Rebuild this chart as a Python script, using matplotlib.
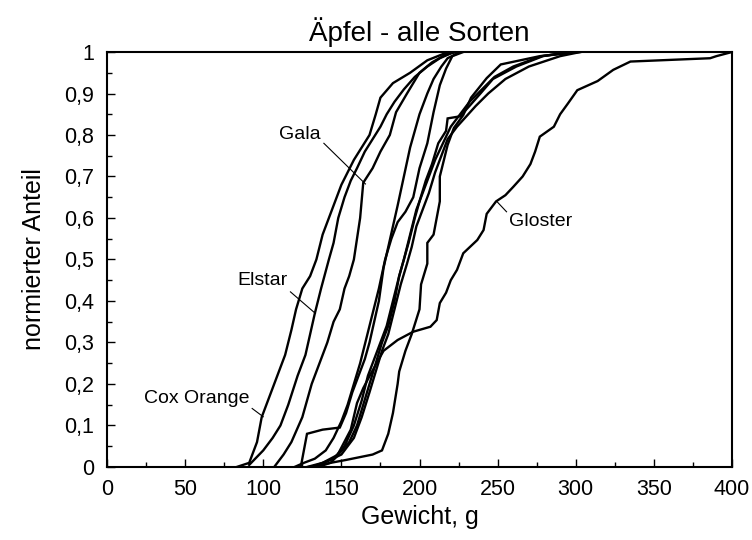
import matplotlib
matplotlib.use('Agg')
import matplotlib.pyplot as plt
from matplotlib.ticker import MultipleLocator, FuncFormatter

plt.rcParams['font.family'] = ['Liberation Sans', 'DejaVu Sans']

# cumulative weight distributions (weight in g, normalized share)
cox_x = [83, 91, 96, 99, 103, 109, 114, 118, 121, 125, 130, 134, 138, 141, 146, 150, 154, 158, 163, 168, 172, 175, 183, 194, 205, 215, 225]
cox_y = [0, .01, .06, .12, .16, .22, .27, .33, .38, .43, .46, .50, .56, .59, .64, .68, .71, .74, .77, .80, .85, .89, .925, .95, .98, .995, 1]

elstar_x = [91, 100, 106, 111, 116, 122, 127, 130, 133, 137, 142, 145, 148, 152, 156, 160, 165, 170, 175, 179, 184, 190, 197, 205, 213, 222]
elstar_y = [0.005, .04, .07, .10, .15, .22, .27, .32, .37, .43, .50, .54, .60, .65, .69, .72, .76, .79, .82, .85, .88, .91, .94, .965, .985, 1]

gala_x = [107, 113, 118, 125, 131, 137, 141, 145, 149, 152, 155, 158, 160, 162, 164, 170, 175, 181, 185, 192, 200, 208, 215, 222]
gala_y = [0, .03, .06, .12, .20, .26, .30, .35, .38, .43, .46, .50, .55, .60, .685, .72, .76, .80, .855, .90, .95, .975, .99, 1]

m1_x = [124, 126, 128, 138, 149, 153, 157, 161, 165, 168, 171, 174, 177, 180, 183, 186, 190, 194, 200, 205, 209, 214, 218, 226]
m1_y = [0, .04, .08, .09, .095, .13, .18, .22, .26, .30, .35, .40, .48, .53, .58, .63, .70, .77, .85, .90, .935, .965, .985, 1]

m2_x = [120, 126, 133, 140, 145, 150, 154, 158, 162, 166, 170, 174, 178, 182, 186, 191, 196, 200, 205, 209, 213, 217, 221, 228]
m2_y = [0, .01, .02, .04, .07, .11, .15, .20, .25, .31, .37, .43, .50, .55, .59, .615, .65, .72, .78, .855, .92, .96, .99, 1]

r2_x = [128, 138, 148, 155, 160, 164, 168, 172, 176, 180, 184, 187, 190, 194, 198, 202, 206, 210, 215, 220, 226, 232, 240, 248, 260, 278, 298]
r2_y = [0, .01, .03, .06, .10, .15, .20, .25, .30, .34, .40, .46, .50, .56, .62, .66, .70, .74, .78, .82, .85, .88, .91, .94, .965, .99, 1]

r3_x = [131, 145, 152, 158, 163, 167, 171, 175, 179, 183, 187, 190, 193, 197, 200, 204, 208, 212, 217, 218, 226, 232, 239, 247, 262, 279, 296]
r3_y = [0, .02, .05, .10, .16, .22, .26, .30, .34, .40, .46, .50, .54, .60, .64, .69, .73, .78, .81, .84, .845, .87, .90, .935, .965, .99, 1]

r4_x = [133, 150, 158, 163, 168, 172, 176, 180, 184, 188, 192, 195, 198, 202, 206, 210, 214, 218, 224, 230, 236, 244, 255, 270, 290, 303]
r4_y = [0, .03, .07, .12, .18, .23, .28, .32, .38, .44, .49, .53, .58, .62, .66, .71, .75, .79, .82, .845, .87, .90, .935, .965, .99, 1]

h_x = [129, 153, 170, 176, 180, 183, 186, 187, 191, 195, 200, 201, 205, 205, 209, 213, 213, 218, 222, 228, 233, 243, 252, 277, 303]
h_y = [0, .017, .03, .04, .08, .13, .20, .23, .28, .32, .38, .44, .49, .54, .56, .64, .70, .776, .817, .848, .89, .937, .97, .99, 1]

gloster_x = [135, 143, 147, 156, 160, 164, 169, 177, 186, 196, 207, 211, 213, 217, 220, 224, 228, 237, 241, 243, 249, 255, 260, 266,
             271, 274, 277, 286, 290, 295, 301, 314, 324, 335, 386, 390, 400]
gloster_y = [0, .01, .025, .09, .154, .19, .226, .28, .306, .326, .338, .354, .395, .42, .45, .475, .515, .547, .571, .61, .64, .655, .675, .70,
             .73, .76, .796, .82, .85, .876, .908, .93, .957, .977, .985, .99, 1]

curves = [(cox_x, cox_y), (elstar_x, elstar_y), (gala_x, gala_y), (m1_x, m1_y), (m2_x, m2_y),
          (r2_x, r2_y), (r3_x, r3_y), (r4_x, r4_y), (h_x, h_y), (gloster_x, gloster_y)]

# variety labels: text position, leader start, leader end
labels = [
    ('Gala', (123.6, 0.802), (138.8, 0.78), (165.4, 0.682)),
    ('Elstar', (99.3, 0.449), (117.4, 0.422), (133.4, 0.37)),
    ('Cox Orange', (57.7, 0.164), (92.9, 0.141), (100, 0.121)),
    ('Gloster', (277.7, 0.591), (255.7, 0.615), (249.7, 0.639)),
]

fig = plt.figure(figsize=(7.52, 5.4), dpi=100)
ax = fig.add_axes([0.1423, 0.1352, 0.8311, 0.7685])

for x, y in curves:
    ax.plot(x, y, color='black', lw=1.7, solid_joinstyle='miter')

for name, txt, p0, p1 in labels:
    ax.text(txt[0], txt[1], name, ha='center', va='center', fontsize=14)
    ax.plot([p0[0], p1[0]], [p0[1], p1[1]], color='black', lw=0.8)

ax.set_xlim(0, 400)
ax.set_ylim(0, 1)
ax.xaxis.set_major_locator(MultipleLocator(50))
ax.xaxis.set_minor_locator(MultipleLocator(25))
ax.yaxis.set_major_locator(MultipleLocator(0.1))
ax.yaxis.set_minor_locator(MultipleLocator(0.05))
ax.yaxis.set_major_formatter(FuncFormatter(lambda v, p: ('%g' % round(v, 2)).replace('.', ',')))
ax.tick_params(which='both', direction='in', top=False, right=False, labelsize=15.5, width=1)
ax.tick_params(which='major', length=6)
ax.tick_params(which='minor', length=3.5)
ax.tick_params(axis='x', which='major', pad=8.5)
ax.tick_params(axis='y', which='major', pad=9.5)
for s in ax.spines.values():
    s.set_linewidth(1.5)

ax.set_title('Äpfel - alle Sorten', fontsize=20, pad=8)
ax.set_xlabel('Gewicht, g', fontsize=18, labelpad=4)
ax.set_ylabel('normierter Anteil', fontsize=18, labelpad=13)

fig.savefig('out.png', dpi=100)
